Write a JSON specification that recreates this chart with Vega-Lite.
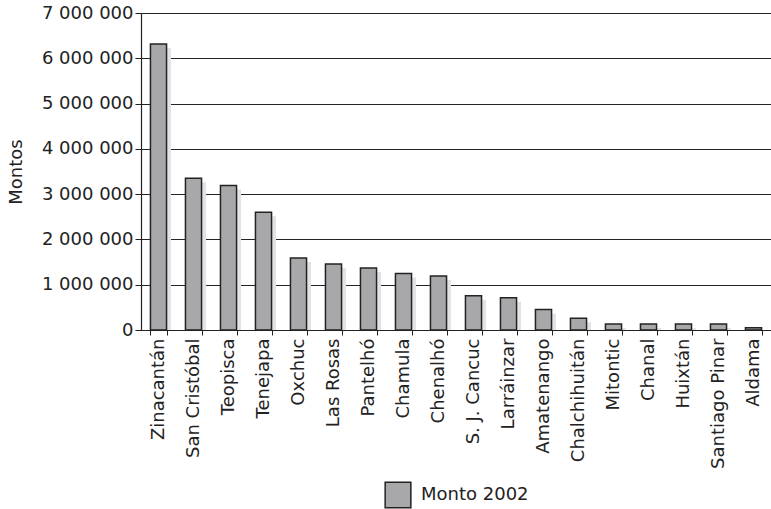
{
  "$schema": "https://vega.github.io/schema/vega-lite/v6.json",
  "width": 630,
  "height": 317,
  "autosize": {"type": "none"},
  "padding": {"left": 141, "top": 13, "right": 0, "bottom": 179},
  "config": {
    "font": "DejaVu Sans",
    "locale": {"number": {"decimal": ",", "thousands": " ", "grouping": [3], "currency": ["", ""]}},
    "view": {"stroke": null},
    "axis": {"labelColor": "#222", "titleColor": "#222", "domainColor": "#222", "tickColor": "#222", "labelFontSize": 18, "titleFontSize": 18, "titleFontWeight": "normal", "labelOverlap": false, "labelFlush": false}
  },
  "data": {"values": [
    {"m": "Zinacantán", "v": 6315000, "s": "Monto 2002"},
    {"m": "San Cristóbal", "v": 3350000, "s": "Monto 2002"},
    {"m": "Teopisca", "v": 3190000, "s": "Monto 2002"},
    {"m": "Tenejapa", "v": 2600000, "s": "Monto 2002"},
    {"m": "Oxchuc", "v": 1590000, "s": "Monto 2002"},
    {"m": "Las Rosas", "v": 1460000, "s": "Monto 2002"},
    {"m": "Pantelhó", "v": 1370000, "s": "Monto 2002"},
    {"m": "Chamula", "v": 1250000, "s": "Monto 2002"},
    {"m": "Chenalhó", "v": 1190000, "s": "Monto 2002"},
    {"m": "S. J. Cancuc", "v": 755000, "s": "Monto 2002"},
    {"m": "Larráinzar", "v": 710000, "s": "Monto 2002"},
    {"m": "Amatenango", "v": 450000, "s": "Monto 2002"},
    {"m": "Chalchihuitán", "v": 260000, "s": "Monto 2002"},
    {"m": "Mitontic", "v": 130000, "s": "Monto 2002"},
    {"m": "Chanal", "v": 130000, "s": "Monto 2002"},
    {"m": "Huixtán", "v": 130000, "s": "Monto 2002"},
    {"m": "Santiago Pinar", "v": 130000, "s": "Monto 2002"},
    {"m": "Aldama", "v": 50000, "s": "Monto 2002"}
  ]},
  "encoding": {
    "x": {"field": "m", "type": "nominal", "sort": null,
      "scale": {"paddingInner": 0.54, "paddingOuter": 0.27},
      "axis": {"title": null, "labelAngle": -90, "tickBand": "extent", "tickSize": 5, "labelPadding": 3, "domainWidth": 1.2}},
    "y": {"field": "v", "type": "quantitative",
      "scale": {"domain": [0, 7000000]},
      "axis": {"title": "Montos", "values": [0,1000000,2000000,3000000,4000000,5000000,6000000,7000000], "format": ",d", "grid": true, "gridColor": "#222", "gridWidth": 1.1, "gridOpacity": 1, "tickSize": 6, "domainWidth": 1.2, "titlePadding": 16, "labelPadding": 2}}
  },
  "layer": [
    {"mark": {"type": "bar", "color": "#e3e3e5", "xOffset": 4.5, "yOffset": 4, "clip": true}},
    {"mark": {"type": "bar", "stroke": "#222", "strokeWidth": 1.5},
      "encoding": {"color": {"field": "s", "type": "nominal",
        "scale": {"range": ["#a8a8ab"]},
        "legend": {"title": null, "orient": "none", "legendX": 243, "legendY": 468, "direction": "horizontal", "symbolType": "square", "symbolSize": 660, "symbolStrokeColor": "#222", "symbolStrokeWidth": 1.5, "symbolOpacity": 1, "labelFontSize": 18, "labelColor": "#222", "labelOffset": 9}}}}
  ]
}
